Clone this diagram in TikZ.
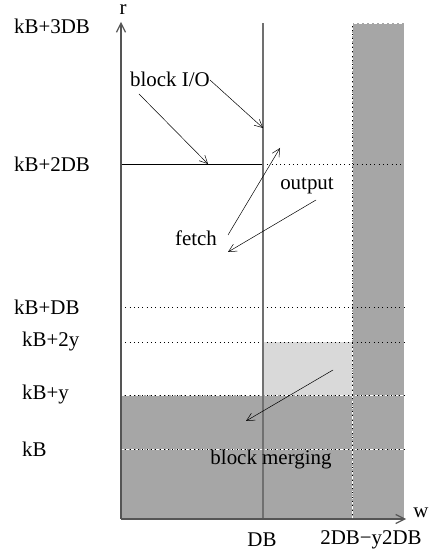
\documentclass[tikz,border=0pt]{standalone}
\usepackage{fontspec}
\setmainfont{Liberation Serif}
\usepackage{xcolor}
\usepackage{tikz}
\usetikzlibrary{arrows.meta,positioning,calc}

\definecolor{darkfill}{HTML}{A6A6A6}
\definecolor{lightfill}{HTML}{D9D9D9}
\definecolor{axisgray}{HTML}{555555}
\definecolor{linegray}{HTML}{707070}

\tikzset{
  lbl/.style={font=\fontsize{21}{25}\selectfont, inner sep=0pt},
  rowlbl/.style={lbl, anchor=west},
  axis/.style={axisgray, line width=1.2pt, -{Straight Barb[length=9pt,width=9pt]}},
  grid/.style={black, line width=0.7pt, dash pattern=on 0.8pt off 3.5pt},
  wgrid/.style={white, line width=0.8pt, dash pattern=on 3pt off 2pt},
  pointer/.style={black, line width=0.5pt, -{Straight Barb[length=8pt,width=8pt]}}
}

\begin{document}
\begin{tikzpicture}[x=1bp,y=1bp]
  \useasboundingbox (0,0) rectangle (433,557);
  % flaechen
  \fill[darkfill] (121,38) rectangle (404,162);
  \fill[darkfill] (352,38) rectangle (404,534);
  \fill[lightfill] (263,162) rectangle (352,215);
  % spalte: raender
  \draw[wgrid] (352,38) -- (352,534) -- (404,534) -- (404,38);
  \draw[grid] (352,38) -- (352,534);
  % zeilen
  \draw[wgrid] (121,162) -- (404,162);
  \draw[wgrid] (121,108) -- (404,108);
  \foreach \yy in {250,215,162,108}
    \draw[grid] (121,\yy) -- (404,\yy);
  \draw[grid] (263,393) -- (404,393);
  \draw[black, line width=0.8pt] (121,393) -- (263,393);
  % DB linie
  \draw[linegray, line width=1.5pt] (263,38) -- (263,534);
  % achsen
  \coordinate (O) at (121,38);
  \coordinate (rtop) at (121,535);
  \coordinate (wend) at (406,38);
  \draw[axis] (O) -- (rtop);
  \draw[axis] (O) -- (wend);
  \node[lbl] (r) at (123,547) {r};
  \node[lbl] (w) at (421,44) {w};
  \node[lbl] (db) at (262,17) {DB};
  \node[lbl] (db2) at (371,17) {2DB−y2DB};
  % zeilen beschriftung
  \node[rowlbl] (k3) at (14,531) {kB+3DB};
  \node[rowlbl] (k2) at (14,393) {kB+2DB};
  \node[rowlbl] (k1) at (14,250) {kB+DB};
  \node[rowlbl] (ky2) at (22,215) {kB+2y};
  \node[rowlbl] (ky) at (22,162) {kB+y};
  \node[rowlbl] (k0) at (22,108) {kB};
  % pfeile
  \node[lbl] (bio) at (170,478) {block I/O};
  \coordinate (bioA) at (210,477);
  \coordinate (bioB) at (139,463);
  \coordinate (dbhit) at (263,429);
  \coordinate (rowhit) at (208,393);
  \draw[pointer] (bioA) -- (dbhit);
  \draw[pointer] (bioB) -- (rowhit);
  \node[lbl] (out) at (307,371) {output};
  \coordinate (outA) at (316,357);
  \coordinate (outB) at (228,305);
  \draw[pointer] (outA) -- (outB);
  \node[lbl] (fetch) at (196,319) {fetch};
  \coordinate (fetchA) at (228,322);
  \coordinate (fetchB) at (280,409);
  \draw[pointer] (fetchA) -- (fetchB);
  \node[lbl] (merge) at (271,97) {block merging};
  \coordinate (mergeA) at (333,187);
  \coordinate (mergeB) at (246,136);
  \draw[pointer] (mergeA) -- (mergeB);
\end{tikzpicture}
\end{document}
